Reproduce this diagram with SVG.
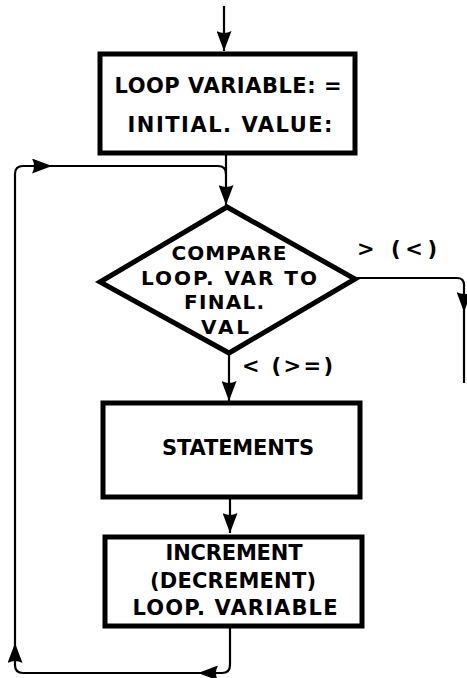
<svg xmlns="http://www.w3.org/2000/svg" width="467" height="678" viewBox="0 0 467 678">
<style>
.box{fill:#fff;stroke:#000;stroke-width:5;stroke-linejoin:miter}
.t{font-family:"DejaVu Sans","Liberation Sans",Arial,sans-serif;font-weight:bold;font-size:21px;fill:#000;text-anchor:middle}
.d{font-size:20px}
.lbl{font-family:"DejaVu Sans","Liberation Sans",Arial,sans-serif;font-weight:bold;font-size:21px;fill:#000}
.c{fill:none;stroke:#000;stroke-width:2.2}
</style>
<defs>
<marker id="arr" markerUnits="userSpaceOnUse" markerWidth="20" markerHeight="15" refX="20" refY="7.5" orient="auto">
<path d="M0,0 L20,7.5 L0,15 Q4,7.5 0,0 z" fill="#000"/>
</marker>
</defs>
<rect width="467" height="678" fill="#fff"/>
<g id="connectors">
<path class="c" d="M224,6 V51" marker-end="url(#arr)"/>
<path class="c" d="M226,155 V205" marker-end="url(#arr)"/>
<path class="c" d="M230,628 V665 Q230,673 222,673 H198" marker-end="url(#arr)"/>
<path class="c" d="M198,673 H23 Q15,673 15,665 V643" marker-end="url(#arr)"/>
<path class="c" d="M15,643 V174 Q15,166 23,166 H52" marker-end="url(#arr)"/>
<path class="c" d="M52,166 H218 Q226,166 226,174"/>
<path class="c" d="M229,354 V401" marker-end="url(#arr)"/>
<path class="c" d="M230,499 V533" marker-end="url(#arr)"/>
<path class="c" d="M357,278 H457 Q464,278 464,285 V312" marker-end="url(#arr)"/>
<path class="c" d="M464,312 V383"/>
</g>
<g id="init">
<rect class="box" x="100" y="54" width="255" height="99"/>
<text class="t" x="228" y="93" textLength="227" lengthAdjust="spacing">LOOP VARIABLE: =</text>
<text class="t" x="230" y="132" textLength="205" lengthAdjust="spacing">INITIAL. VALUE:</text>
</g>
<g id="compare">
<polygon class="box" points="227,207 355,279 229,353 100,282"/>
<text class="t d" x="229" y="260" textLength="115" lengthAdjust="spacing">COMPARE</text>
<text class="t d" x="229" y="285" textLength="176" lengthAdjust="spacing">LOOP. VAR TO</text>
<text class="t d" x="224" y="309" textLength="80" lengthAdjust="spacing">FINAL.</text>
<text class="t d" x="225" y="334" textLength="48" lengthAdjust="spacing">VAL</text>
</g>
<g id="label-gt">
<text class="lbl" x="357" y="256" textLength="80" lengthAdjust="spacing">&gt;  (&lt;)</text>
</g>
<g id="label-lt">
<text class="lbl" x="242" y="373" textLength="91" lengthAdjust="spacing">&lt;  (&gt;=)</text>
</g>
<g id="statements">
<rect class="box" x="103" y="403" width="257" height="94"/>
<text class="t" x="238" y="455" textLength="152" lengthAdjust="spacing">STATEMENTS</text>
</g>
<g id="increment">
<rect class="box" x="105" y="537" width="257" height="89"/>
<text class="t" x="234" y="560" textLength="137" lengthAdjust="spacing">INCREMENT</text>
<text class="t" x="233" y="588" textLength="166" lengthAdjust="spacing">(DECREMENT)</text>
<text class="t" x="235" y="615" textLength="205" lengthAdjust="spacing">LOOP. VARIABLE</text>
</g>
</svg>
